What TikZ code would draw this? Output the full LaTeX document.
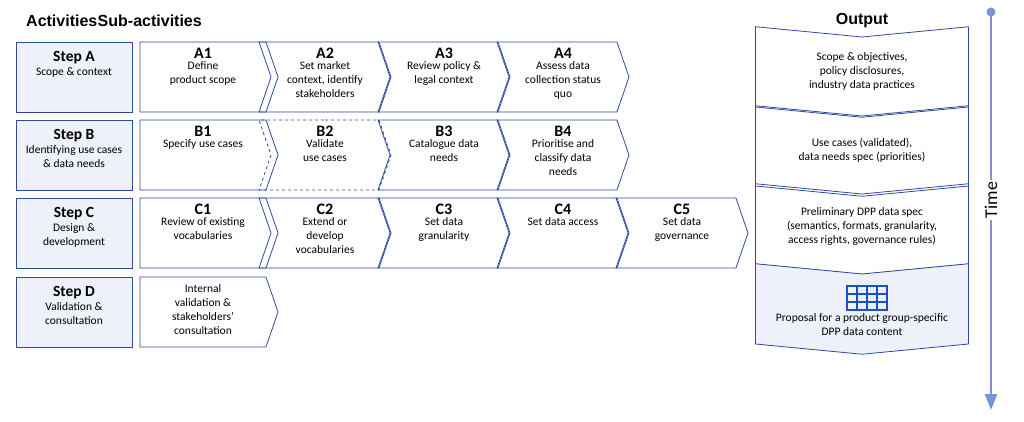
\documentclass[tikz,border=0pt]{standalone}
\usepackage{fontspec}
\setmainfont{Carlito}
\newfontfamily\headfont{Liberation Sans}
\usetikzlibrary{positioning,calc,shapes.symbols,arrows.meta}
\definecolor{navy}{HTML}{2E4A9C}
\definecolor{pale}{HTML}{EEF1F9}
\definecolor{timeblue}{HTML}{7B93D6}
\definecolor{gridblue}{HTML}{1F4FBF}
\begin{document}
\begin{tikzpicture}[x=1pt,y=-1pt,
    stepbox/.style={draw=navy,thick,fill=pale,minimum width=116pt,minimum height=70pt,inner sep=0pt},
    chev/.style={signal,draw=navy,thick,signal to=east,signal from=west,signal pointer angle=142,
        minimum width=132pt,minimum height=70pt,inner sep=0pt},
    first/.style={signal from=nowhere,minimum width=138pt,xshift=-3pt},
    outp/.style={signal,draw=navy,thick,signal to=south,signal from=north,signal pointer angle=169,
        minimum width=213pt,minimum height=70pt,inner sep=0pt},
    txt/.style={align=center,font=\fontsize{11.5}{14}\selectfont,anchor=north,inner sep=0pt},
    lab/.style={font=\fontsize{16}{16}\bfseries,anchor=north,inner sep=0pt},
    head/.style={font=\headfont\fontsize{16}{16}\bfseries}]
\useasboundingbox (0,0) rectangle (1024,422);

\node[head,anchor=west,inner sep=0pt] (hact) at (26,21) {Activities};
\node[head,anchor=west,inner sep=0pt] (hsub) at (hact.east) {Sub-activities};
\node[head] (hout) at (862,21) {Output};

% steps
\node[stepbox] (sA) at (74,77) {};
\node[stepbox] (sB) at (74,155) {};
\node[stepbox] (sC) at (74,233) {};
\node[stepbox] (sD) at (74,312) {};
\node[txt] at ($(sA.north)+(0,10)$) {{\fontsize{15.5}{18}\bfseries Step A}\\Scope \& context};
\node[txt] at ($(sB.north)+(0,10)$) {{\fontsize{15.5}{18}\bfseries Step B}\\Identifying use cases\\\& data needs};
\node[txt] at ($(sC.north)+(0,10)$) {{\fontsize{15.5}{18}\bfseries Step C}\\Design \&\\development};
\node[txt] at ($(sD.north)+(0,10)$) {{\fontsize{15.5}{18}\bfseries Step D}\\Validation \&\\consultation};

% sub-activities
\node[chev,first] (a1) at (206,77) {};
\node[chev] (a2) at (325,77) {};
\node[chev] (a3) at (444,77) {};
\node[chev] (a4) at (563,77) {};
\node[chev,first] (b1) at (206,155) {};
\node[chev,dashed] (b2) at (325,155) {};
\node[chev] (b3) at (444,155) {};
\node[chev] (b4) at (563,155) {};
\node[chev,first] (c1) at (206,233) {};
\node[chev] (c2) at (325,233) {};
\node[chev] (c3) at (444,233) {};
\node[chev] (c4) at (563,233) {};
\node[chev] (c5) at (682,233) {};
\node[chev,first] (d1) at (206,312) {};

\foreach \n/\l/\t in {a1/A1/{Define\\product scope},a2/A2/{Set market\\context, identify\\stakeholders},
    a3/A3/{Review policy \&\\legal context},a4/A4/{Assess data\\collection status\\quo},
    b1/B1/{Specify use cases},b2/B2/{Validate\\use cases},b3/B3/{Catalogue data\\needs},
    b4/B4/{Prioritise and\\classify data\\needs},c1/C1/{Review of existing\\vocabularies},
    c2/C2/{Extend or\\develop\\vocabularies},c3/C3/{Set data\\granularity},c4/C4/{Set data access},
    c5/C5/{Set data\\governance}}{
    \node[lab] (\n l) at ($(\n.north)+(0,6)$) {\l};
    \node[txt] at ($(\n l.south)+(0,3)$) {\t};
}
\node[txt] at ($(d1.north)+(0,8)$) {Internal\\validation \&\\stakeholders'\\consultation};

% outputs
\node[outp] (o1) at (862,72) {};
\node[outp] (o2) at (862,151) {};
\node[outp] (o3) at (862,229) {};
\node[outp,fill=pale] (o4) at (862,309) {};
\node[txt] at ($(o1.center)+(0,-20)$) {Scope \& objectives,\\policy disclosures,\\industry data practices};
\node[txt] at ($(o2.center)+(0,-13)$) {Use cases (validated),\\data needs spec (priorities)};
\node[txt] at ($(o3.center)+(0,-22)$) {Preliminary DPP data spec\\(semantics, formats, granularity,\\access rights, governance rules)};
\node[txt] at ($(o4.center)+(0,4)$) {Proposal for a product group-specific\\DPP data content};
\foreach \gx in {857,867,877} \draw[gridblue,line width=1.6pt] (\gx,286) -- (\gx,310);
\foreach \gy in {294,302} \draw[gridblue,line width=1.6pt] (847,\gy) -- (887,\gy);
\draw[gridblue,line width=1.6pt] (847,286) rectangle (887,310);

% time axis
\coordinate (t0) at (991,12);
\coordinate (t1) at (991,410);
\draw[timeblue,line width=2.5pt,-{Triangle[width=12pt,length=16pt]}] (t0) -- (t1);
\fill[timeblue] (t0) circle (4.5pt);
\node[fill=white,rotate=90,font=\fontsize{18}{18}\selectfont,inner sep=2pt] (time) at (991,200) {Time};
\end{tikzpicture}
\end{document}
